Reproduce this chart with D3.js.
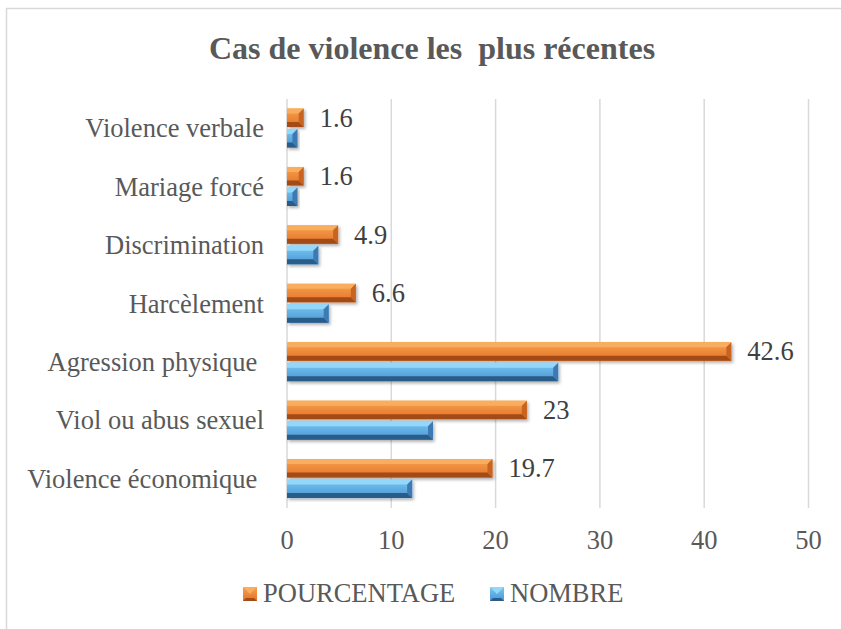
<!DOCTYPE html>
<html>
<head>
<meta charset="utf-8">
<script src="https://cdn.jsdelivr.net/npm/d3@7"></script>
<style>
  html, body { margin: 0; padding: 0; background: #fff; }
  svg text { white-space: pre; }
</style>
</head>
<body>
<svg id="chart" width="841" height="629"></svg>
<script>
const title = "Cas de violence les  plus récentes";
const categories = ["Violence verbale", "Mariage forcé", "Discrimination", "Harcèlement", "Agression physique ", "Viol ou abus sexuel", "Violence économique "];
const pourcentage = [1.6, 1.6, 4.9, 6.6, 42.6, 23, 19.7];
const nombre = [1, 1, 3, 4, 26, 14, 12];
const seriesNames = ["POURCENTAGE", "NOMBRE"];
const xTicks = [0, 10, 20, 30, 40, 50];

const FONT = "'Liberation Serif', Tinos, 'Times New Roman', Times, 'DejaVu Serif', serif";
const svg = d3.select("#chart").attr("font-family", FONT);
const W = 841, H = 629;
const plotLeft = 287, plotRight = 808.5, plotTop = 99, plotBottom = 508;

const palettes = [
  { topB: "#F9AE5E", face0: "#F7A24C", face1: "#E4712A", botB: "#A34C15", rightB: "#C86420" },
  { topB: "#93D8FA", face0: "#78C8F3", face1: "#4B94D2", botB: "#2B5B88", rightB: "#3E79B2" }
];

// frame
svg.append("rect").attr("x", 6.5).attr("y", 8.5).attr("width", W + 10).attr("height", H + 10)
  .attr("fill", "none").attr("stroke", "#d9d9d9").attr("stroke-width", 1.5);

const defs = svg.append("defs");
palettes.forEach((p, i) => {
  const g = defs.append("linearGradient").attr("id", "face" + i)
    .attr("x1", 0).attr("y1", 0).attr("x2", 0).attr("y2", 1);
  g.append("stop").attr("offset", "0%").attr("stop-color", p.face0);
  g.append("stop").attr("offset", "100%").attr("stop-color", p.face1);
});
const f = defs.append("filter").attr("id", "shadow").attr("x", "-10%").attr("y", "-30%").attr("width", "130%").attr("height", "180%");
f.append("feDropShadow").attr("dx", 1.5).attr("dy", 2).attr("stdDeviation", 1.5).attr("flood-color", "#000").attr("flood-opacity", 0.3);

const x = d3.scaleLinear().domain([0, 50]).range([plotLeft, plotRight]);
const y = d3.scaleBand().domain(categories).range([plotTop, plotBottom]);

// gridlines
svg.append("g").selectAll("line").data(xTicks).join("line")
  .attr("x1", d => x(d)).attr("x2", d => x(d))
  .attr("y1", plotTop).attr("y2", plotBottom)
  .attr("stroke", "#d9d9d9").attr("stroke-width", 1.5);

// x tick labels
svg.append("g").selectAll("text").data(xTicks).join("text")
  .attr("x", d => x(d)).attr("y", 549)
  .attr("text-anchor", "middle").attr("font-size", "26.5px").attr("fill", "#595959")
  .text(d => d);

// category labels
svg.append("g").selectAll("text").data(categories).join("text")
  .attr("x", 264).attr("y", d => y(d) + y.bandwidth() / 2 + 9)
  .attr("text-anchor", "end").attr("font-size", "26.5px").attr("fill", "#595959")
  .text(d => d);

const barH = 18.5;
const offsets = [9.5, 30];

function drawBar(g, x0, x1, yy, h, p, i) {
  const b = Math.min(5, (x1 - x0) / 2);
  const bar = g.append("g").attr("filter", "url(#shadow)");
  bar.append("rect").attr("x", x0).attr("y", yy).attr("width", x1 - x0).attr("height", h).attr("fill", "url(#face" + i + ")");
  bar.append("polygon").attr("points", [[x0, yy], [x1, yy], [x1 - b, yy + b], [x0, yy + b]].join(" ")).attr("fill", p.topB);
  bar.append("polygon").attr("points", [[x0, yy + h], [x1, yy + h], [x1 - b, yy + h - b], [x0, yy + h - b]].join(" ")).attr("fill", p.botB);
  bar.append("polygon").attr("points", [[x1, yy], [x1, yy + h], [x1 - b, yy + h - b], [x1 - b, yy + b]].join(" ")).attr("fill", p.rightB);
}

const seriesData = [pourcentage, nombre];
const gBars = svg.append("g");
seriesData.forEach((vals, si) => {
  categories.forEach((c, ci) => {
    drawBar(gBars, x(0), x(vals[ci]), y(c) + offsets[si], barH, palettes[si], si);
  });
});

// data labels for pourcentage
svg.append("g").selectAll("text").data(categories).join("text")
  .attr("x", (d, i) => x(pourcentage[i]) + 16)
  .attr("y", d => y(d) + offsets[0] + barH / 2 + 9)
  .attr("font-size", "26.5px").attr("fill", "#404040")
  .text((d, i) => pourcentage[i]);

// title
svg.append("text").attr("x", 432).attr("y", 59).attr("text-anchor", "middle")
  .attr("font-size", "32px").attr("font-weight", "bold").attr("fill", "#595959")
  .text(title);

// legend
const legendItems = [{ name: seriesNames[0], mx: 243, tx: 263 }, { name: seriesNames[1], mx: 490, tx: 510 }];
legendItems.forEach((it, i) => {
  const s = 14, yy = 587;
  const p = palettes[i];
  const lg = svg.append("g");
  lg.append("rect").attr("x", it.mx).attr("y", yy).attr("width", s).attr("height", s).attr("fill", "url(#face" + i + ")");
  lg.append("polygon").attr("points", [[it.mx, yy], [it.mx + s, yy], [it.mx + s / 2, yy + s / 2]].join(" ")).attr("fill", p.topB);
  lg.append("polygon").attr("points", [[it.mx, yy + s], [it.mx + s, yy + s], [it.mx + s - 3, yy + s - 3], [it.mx + 3, yy + s - 3]].join(" ")).attr("fill", p.botB);
  lg.append("text").attr("x", it.tx).attr("y", 602).attr("font-size", "26.5px").attr("fill", "#595959").text(it.name);
});
</script>
</body>
</html>
